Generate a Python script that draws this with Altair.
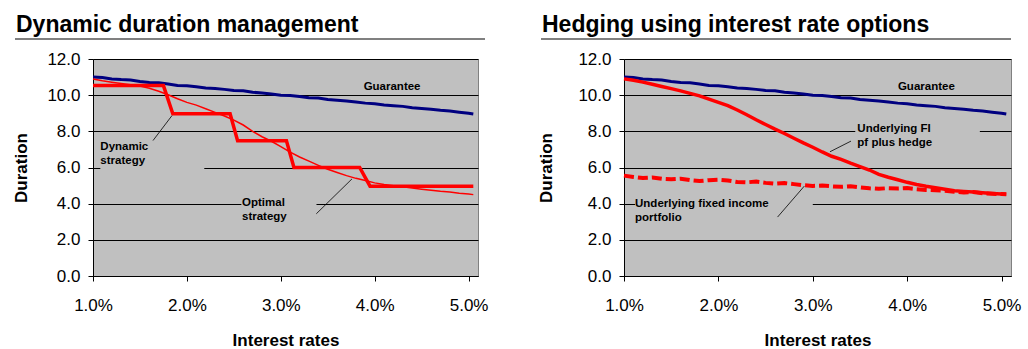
import altair as alt
import pandas as pd

# Interest-rate grid (in %) shared by the smooth series
rates = [1.0, 1.1, 1.2, 1.3, 1.4, 1.5, 1.6, 1.7, 1.8, 1.9,
         2.0, 2.1, 2.2, 2.3, 2.4, 2.5, 2.6, 2.7, 2.8, 2.9,
         3.0, 3.1, 3.2, 3.3, 3.4, 3.5, 3.6, 3.7, 3.8, 3.9,
         4.0, 4.1, 4.2, 4.3, 4.4, 4.5, 4.6, 4.7, 4.8, 4.9,
         5.0, 5.05]

guarantee = [11.00, 10.98, 10.90, 10.86, 10.84, 10.76, 10.70, 10.68, 10.62, 10.54,
             10.52, 10.47, 10.40, 10.37, 10.32, 10.26, 10.24, 10.16, 10.12, 10.07,
             10.00, 9.98, 9.92, 9.86, 9.84, 9.76, 9.72, 9.68, 9.62, 9.56,
             9.52, 9.46, 9.42, 9.38, 9.30, 9.26, 9.22, 9.16, 9.12, 9.06,
             9.00, 8.96]

optimal = [10.90, 10.80, 10.72, 10.65, 10.58, 10.50, 10.38, 10.22, 10.02, 9.80,
           9.60, 9.45, 9.25, 9.05, 8.85, 8.62, 8.35, 8.00, 7.70, 7.45,
           7.15, 6.85, 6.58, 6.35, 6.12, 5.90, 5.72, 5.55, 5.40, 5.28,
           5.15, 5.06, 4.99, 4.93, 4.87, 4.80, 4.74, 4.68, 4.64, 4.58,
           4.54, 4.50]

# Dynamic strategy: duration re-set in discrete steps
dyn_rates = [1.0, 1.75, 1.85, 2.46, 2.54, 3.06, 3.14, 3.84, 3.95, 5.05]
dynamic = [10.53, 10.53, 8.97, 8.97, 7.48, 7.48, 6.00, 6.00, 4.97, 4.97]

hedged = [10.90, 10.82, 10.72, 10.60, 10.48, 10.36, 10.24, 10.10, 9.96, 9.78,
          9.60, 9.42, 9.18, 8.92, 8.64, 8.38, 8.12, 7.88, 7.62, 7.36,
          7.12, 6.86, 6.62, 6.45, 6.24, 6.05, 5.86, 5.62, 5.46, 5.32,
          5.18, 5.06, 4.96, 4.88, 4.80, 4.72, 4.68, 4.64, 4.60, 4.56,
          4.53, 4.52]

underlying = [5.55, 5.48, 5.42, 5.45, 5.38, 5.35, 5.38, 5.30, 5.25, 5.30,
              5.32, 5.28, 5.20, 5.18, 5.22, 5.15, 5.10, 5.14, 5.08, 5.02,
              4.98, 5.00, 4.96, 4.93, 4.96, 4.90, 4.85, 4.82, 4.86, 4.84,
              4.86, 4.80, 4.76, 4.74, 4.72, 4.66, 4.62, 4.64, 4.58, 4.55,
              4.53, 4.52]

FONT = "Liberation Sans"
H = 217
NAVY = "#000080"
RED = "#FF0000"
PLOT_BG = "#C0C0C0"

x_scale = alt.Scale(domain=[1.0, 5.1], nice=False, zero=False)
y_scale = alt.Scale(domain=[0, 12], nice=False)

x_axis = alt.Axis(
    values=[1, 2, 3, 4, 5],
    labelExpr="format(datum.value, '.1f') + '%'",
    grid=False, title="Interest rates", labelFlush=False, labelOverlap=False,
    labelFontSize=17, labelFont=FONT, labelColor="#000", labelPadding=16,
    tickSize=5, tickColor="#000", domainColor="#000",
    titleFontSize=17, titleFont=FONT, titleFontWeight="bold", titlePadding=19,
    titleColor="#000",
)


def y_axis(title_pad):
    return alt.Axis(
        values=[0, 2, 4, 6, 8, 10, 12], format=".1f",
        grid=True, gridColor="#000", gridWidth=1, gridOpacity=1,
        title="Duration", labelFlush=False, labelOverlap=False,
        labelFontSize=17, labelFont=FONT, labelColor="#000", labelPadding=8,
        tickSize=5, tickColor="#000", domainColor="#000",
        titleFontSize=17, titleFont=FONT, titleFontWeight="bold",
        titlePadding=title_pad, titleColor="#000",
    )


def make_panel(title, x0, x1, width, y_title_pad, boxes, lines, leader_lines, texts):
    y_ax = y_axis(y_title_pad)

    def X(field):
        return alt.X(field, type="quantitative", scale=x_scale, axis=x_axis)

    def Y(field):
        return alt.Y(field, type="quantitative", scale=y_scale, axis=y_ax)

    layers = []

    # plain background patches behind the annotation texts
    bdf = pd.DataFrame(boxes, columns=["x0", "x1", "y0", "y1"])
    layers.append(alt.Chart(bdf).mark_rect(color=PLOT_BG).encode(
        x=X("x0"), x2="x1", y=Y("y0"), y2="y1"))

    for xs, ys, name, mark in lines:
        df = pd.DataFrame({"rate": xs, "duration": ys, "series": name,
                           "i": range(len(xs))})
        layers.append(alt.Chart(df).mark_line(**mark).encode(
            x=X("rate"), y=Y("duration"), order="i:Q"))

    ldf = pd.DataFrame(leader_lines, columns=["x0", "y0", "x1", "y1"])
    layers.append(alt.Chart(ldf).mark_rule(color="#000", strokeWidth=0.8).encode(
        x=X("x0"), y=Y("y0"), x2="x1", y2="y1"))

    tdf = pd.DataFrame(texts, columns=["rate", "duration", "text"])
    layers.append(alt.Chart(tdf).mark_text(
        align="left", baseline="middle", font=FONT, fontSize=11.5,
        fontWeight="bold", color="#000",
    ).encode(x=X("rate"), y=Y("duration"), text="text:N"))

    head = pd.DataFrame({"t": [title]})
    layers.append(alt.Chart(head).mark_text(
        align="left", baseline="alphabetic", font=FONT, fontSize=23,
        fontWeight="bold", color="#000",
    ).encode(x=alt.value(x0 + 1), y=alt.value(-27), text="t:N"))
    layers.append(alt.Chart(head).mark_rule(color="#808080", strokeWidth=2).encode(
        x=alt.value(x0), x2=alt.value(x1), y=alt.value(-20)))

    return alt.layer(*layers).properties(
        width=width, height=H,
        view=alt.ViewBackground(fill=PLOT_BG, stroke="#808080", strokeWidth=1),
    )


left = make_panel(
    "Dynamic duration management", -78, 392, 385, 16,
    boxes=[(1.078, 2.185, 5.8, 7.6), (2.58, 3.38, 2.9, 5.4)],
    lines=[
        (rates, guarantee, "Guarantee", dict(color=NAVY, strokeWidth=3)),
        (rates, optimal, "Optimal strategy", dict(color=RED, strokeWidth=1.5)),
        (dyn_rates, dynamic, "Dynamic strategy", dict(color=RED, strokeWidth=3.5)),
    ],
    leader_lines=[(1.639, 7.49, 1.841, 8.87), (3.378, 3.44, 3.758, 5.37)],
    texts=[(3.882, 10.47, "Guarantee"),
           (1.078, 7.15, "Dynamic"), (1.078, 6.34, "strategy"),
           (2.587, 4.02, "Optimal"), (2.587, 3.25, "strategy")],
)

right = make_panel(
    "Hedging using interest rate options", -83, 387, 387, 22,
    boxes=[(1.117, 3.0, 2.9, 4.75), (3.45, 4.77, 6.9, 8.6)],
    lines=[
        (rates, guarantee, "Guarantee", dict(color=NAVY, strokeWidth=3)),
        (rates, underlying, "Underlying fixed income portfolio",
         dict(color=RED, strokeWidth=4, strokeDash=[10, 4])),
        (rates, hedged, "Underlying FI pf plus hedge", dict(color=RED, strokeWidth=3.5)),
    ],
    leader_lines=[(3.405, 7.46, 3.182, 6.87), (2.627, 3.26, 2.910, 4.97)],
    texts=[(3.902, 10.44, "Guarantee"),
           (3.472, 8.15, "Underlying FI"), (3.472, 7.37, "pf plus hedge"),
           (1.117, 3.99, "Underlying fixed income"), (1.117, 3.22, "portfolio")],
)

chart = alt.hconcat(left, right, spacing=48).configure(
    background="#ffffff", padding={"left": 12, "top": 13, "right": 0, "bottom": 0},
)

chart.save("out.html", embed_options={"renderer": "svg", "actions": False})
